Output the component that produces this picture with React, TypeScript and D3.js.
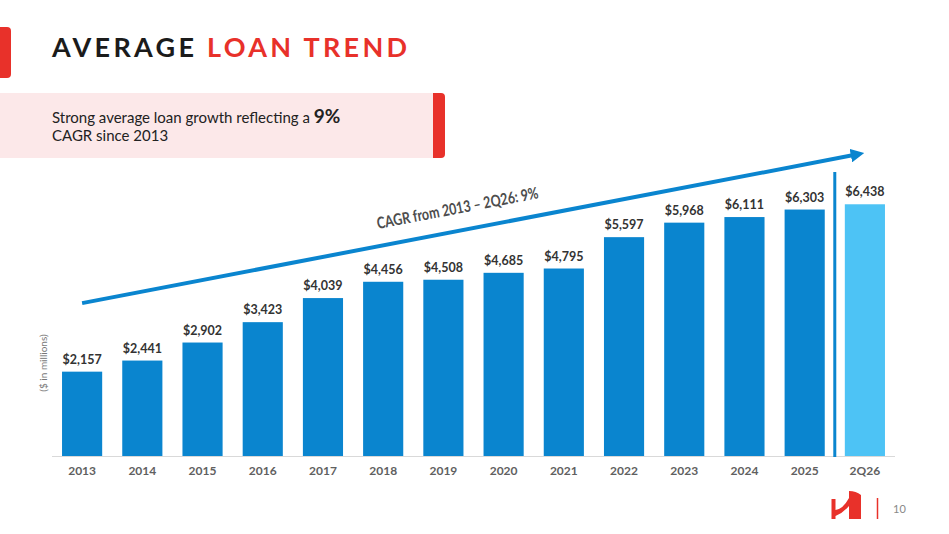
import * as d3 from 'd3';

const periods = ['2013', '2014', '2015', '2016', '2017', '2018', '2019', '2020', '2021', '2022', '2023', '2024', '2025', '2Q26'];
const avgLoans = [2157, 2441, 2902, 3423, 4039, 4456, 4508, 4685, 4795, 5597, 5968, 6111, 6303, 6438];
const partialPeriods = ['2Q26'];
// trend arrow runs from first to last period, in $ millions on the same y scale
const trendFrom = 3910;
const trendTo = 7750;

const W = 949;
const H = 534;
const FONT = 'Lato, "Source Sans Pro", "Noto Sans", sans-serif';
const RED = '#E8312A';
const BLUE = '#0A85CF';
const LIGHT_BLUE = '#4DC3F5';

export default function App() {
  const x = d3.scaleBand<string>()
    .domain(periods)
    .range([52, 895])
    .paddingInner(1 / 3)
    .paddingOuter(1 / 6);

  const y = d3.scaleLinear()
    .domain([0, 7000])
    .range([456, 456 - 7000 * 0.0391]);

  const bw = x.bandwidth();
  const first = periods[0];
  const last = periods[periods.length - 1];
  const ax1 = x(first)! + bw / 2;
  const ay1 = y(trendFrom);
  const ax2 = x(last)! + bw / 2;
  const ay2 = y(trendTo);
  const angle = Math.atan2(ay2 - ay1, ax2 - ax1) * 180 / Math.PI;

  // separator between full years and the partial period
  const sepX = (x(periods[periods.length - 2])! + bw + x(last)!) / 2;

  return (
    <svg width={W} height={H} style={{ position: 'absolute', left: 0, top: 0, fontFamily: FONT }}>
      <rect width={W} height={H} fill="#fff" />

      {/* header */}
      <path d="M0,27 H7 Q11,27 11,31 V74 Q11,78 7,78 H0 Z" fill={RED} />
      <text x={52} y={57} fontSize={27} fontWeight={700} letterSpacing={3.3}>
        <tspan fill="#1b1b1b">AVERAGE </tspan>
        <tspan fill={RED}>LOAN TREND</tspan>
      </text>

      <rect x={0} y={93} width={440} height={65} fill="#FCE8E9" />
      <path d="M433,93 H441 Q445,93 445,97 V154 Q445,158 441,158 H433 Z" fill={RED} />
      <text x={52} y={123} fontSize={15} fill="#222">
        Strong average loan growth reflecting a <tspan fontWeight={700} fontSize={19}>9%</tspan>
      </text>
      <text x={52} y={141} fontSize={15} fill="#222">CAGR since 2013</text>

      {/* trend arrow */}
      <defs>
        <marker id="head" viewBox="0 0 10 10" refX={6} refY={5} markerWidth={3.4} markerHeight={3.4} orient="auto">
          <path d="M0,0 L10,5 L0,10 Z" fill={BLUE} />
        </marker>
      </defs>
      <line x1={ax1} y1={ay1} x2={ax2 - 6} y2={ay2 + 1.1} stroke={BLUE} strokeWidth={4} markerEnd="url(#head)" />
      <text
        transform={`translate(378,229) rotate(${angle})`}
        fontSize={16}
        fontWeight={700}
        fill="#4d4d4d"
        textLength={164}
        lengthAdjust="spacingAndGlyphs"
      >
        CAGR from 2013 – 2Q26: 9%
      </text>

      {/* bars */}
      {periods.map((p, i) => (
        <g key={p}>
          <rect
            x={x(p)}
            y={y(avgLoans[i])}
            width={bw}
            height={y(0) - y(avgLoans[i])}
            fill={partialPeriods.includes(p) ? LIGHT_BLUE : BLUE}
          />
          <text
            x={x(p)! + bw / 2}
            y={y(avgLoans[i]) - 8}
            textAnchor="middle"
            fontSize={12.5}
            fontWeight={700}
            fill="#333"
          >
            {d3.format('$,')(avgLoans[i])}
          </text>
          <text
            x={x(p)! + bw / 2}
            y={475}
            textAnchor="middle"
            fontSize={12}
            fontWeight={700}
            fill="#606060"
          >
            {p}
          </text>
        </g>
      ))}

      <line x1={52} x2={895} y1={y(0) + 0.5} y2={y(0) + 0.5} stroke="#d9d9d9" strokeWidth={1} />
      <line x1={sepX} x2={sepX} y1={172} y2={457} stroke={BLUE} strokeWidth={3} />

      <text
        transform={`translate(47,363) rotate(-90)`}
        textAnchor="middle"
        fontSize={10}
        fill="#777"
      >
        ($ in millions)
      </text>

      {/* footer logo and page number */}
      <path
        d="M831.5,499 H835.5 V510 Q843,509 849,498 V491 Q856,491 861,495 V519 H849 V506 Q843,513 835.5,516 V519 H831.5 Z"
        fill={RED}
      />
      <line x1={877.5} x2={877.5} y1={498} y2={519} stroke={RED} strokeWidth={1.5} />
      <text x={893} y={513} fontSize={11} fill="#888">10</text>
    </svg>
  );
}
